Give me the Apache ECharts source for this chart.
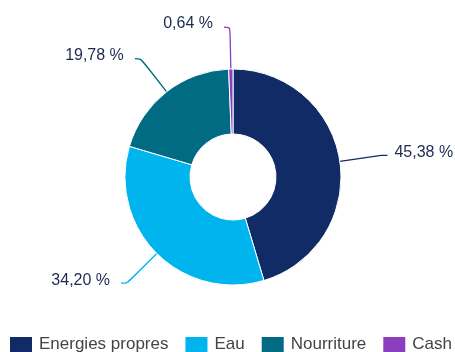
<!DOCTYPE html>
<html><head><meta charset="utf-8">
<script src="https://cdn.jsdelivr.net/npm/echarts@6/dist/echarts.min.js"></script>
<style>html,body{margin:0;padding:0;background:#fff}#c{width:455px;height:352px}</style>
</head><body><div id="c"></div>
<script>
var categories = ['Energies propres', 'Eau', 'Nourriture', 'Cash'];
var values = [45.38, 34.20, 19.78, 0.64];
var colors = ['#112b66', '#00b5ee', '#006b82', '#8b3fbf'];
var chart = echarts.init(document.getElementById('c'));
chart.setOption({
  animation: false,
  color: colors,
  legend: {
    data: categories,
    left: 8, top: 335, width: 447, padding: 0,
    icon: 'rect', itemWidth: 24, itemHeight: 17, itemGap: 15,
    textStyle: {fontFamily: 'Liberation Sans, Arial, sans-serif', fontSize: 17, color: '#444', padding: [0, 0, 0, 1]}
  },
  series: [{
    type: 'pie',
    center: [233, 177],
    radius: [43, 108],
    startAngle: 90,
    itemStyle: {borderColor: '#fff', borderWidth: 1},
    label: {
      show: true,
      overflow: 'none',
      distanceToLabelLine: 7,
      padding: [0, 4, 0, 0],
      fontFamily: 'Liberation Sans, Arial, sans-serif',
      fontSize: 16, color: '#1c2b50',
      formatter: function (p) { return p.value.toFixed(2).replace('.', ',') + ' %'; }
    },
    labelLayout: {dy: -3},
    labelLine: {show: true, length: 42, length2: 6, smooth: true, lineStyle: {width: 1.3}},
    data: categories.map(function (c, i) { return {name: c, value: values[i]}; })
  }]
});
</script></body></html>
